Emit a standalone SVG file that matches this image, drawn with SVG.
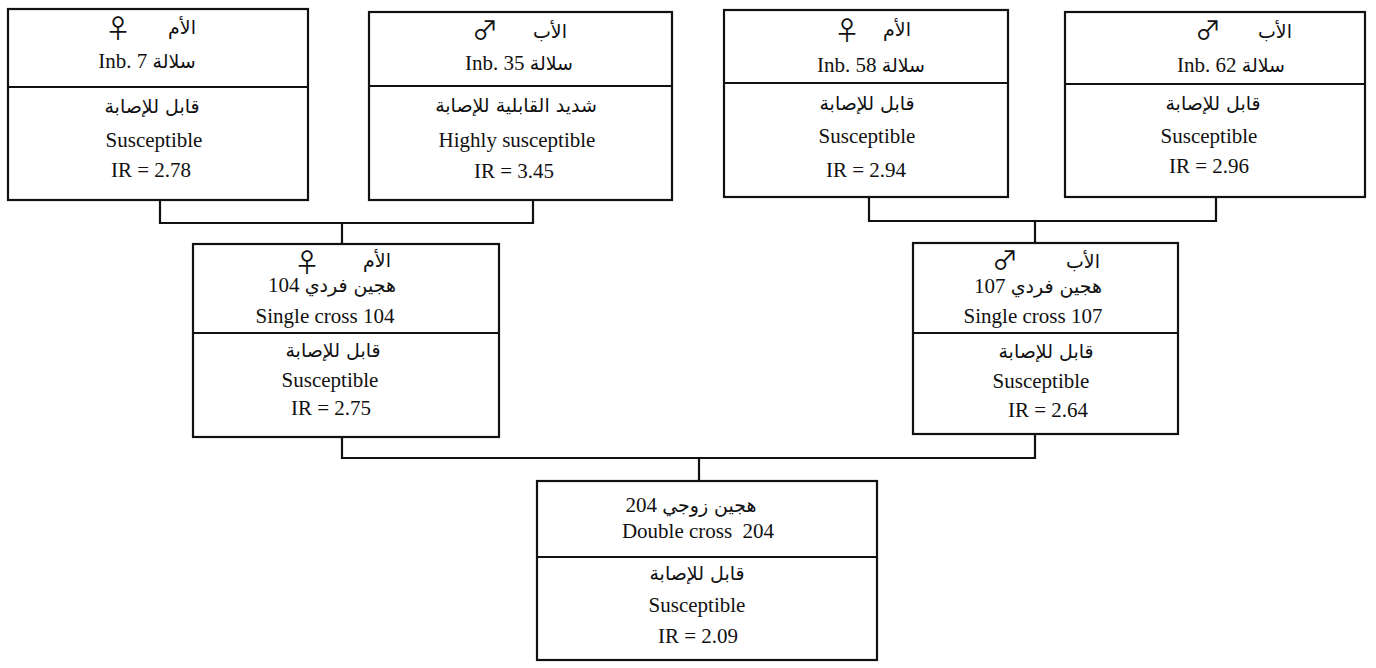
<svg xmlns="http://www.w3.org/2000/svg" width="1376" height="668" viewBox="0 0 1376 668">
<style>
.box{fill:#fff;stroke:#111;stroke-width:2.2}
.div{stroke:#111;stroke-width:2.2}
.con{fill:none;stroke:#111;stroke-width:2.2}
text{font-family:"Liberation Serif","DejaVu Sans",serif;font-size:21px;fill:#111;text-anchor:middle}
.ar{font-family:"DejaVu Sans","Noto Sans",sans-serif;font-size:19px}
.sym{font-family:"Noto Sans CJK JP","DejaVu Sans",sans-serif;font-size:26px}
</style>
<rect width="1376" height="668" fill="#fff"/>
<g id="connectors">
<path class="con" d="M160 200 V223 H533 V200"/>
<path class="con" d="M342 223 V244"/>
<path class="con" d="M869 197 V221 H1216 V197"/>
<path class="con" d="M1035 221 V243"/>
<path class="con" d="M342 437 V458 H1035 V434"/>
<path class="con" d="M699 458 V481"/>
</g>
<g id="n1">
<rect class="box" x="8" y="9" width="300" height="191"/>
<line class="div" x1="8" y1="87" x2="308" y2="87"/>
<text class="sym" x="118" y="38">♀</text>
<text class="ar" x="182" y="34">الأم</text>
<text x="147" y="68">Inb. 7 <tspan class="ar">سلالة</tspan></text>
<text class="ar" x="152" y="113">قابل للإصابة</text>
<text x="154" y="147">Susceptible</text>
<text x="151" y="177">IR = 2.78</text>
</g>
<g id="n2">
<rect class="box" x="369" y="12" width="303" height="188"/>
<line class="div" x1="369" y1="86" x2="672" y2="86"/>
<text class="sym" x="485" y="40">♂</text>
<text class="ar" x="550" y="38">الأب</text>
<text x="519" y="70">Inb. 35 <tspan class="ar">سلالة</tspan></text>
<text class="ar" x="516" y="112">شديد القابلية للإصابة</text>
<text x="517" y="147">Highly susceptible</text>
<text x="514" y="178">IR = 3.45</text>
</g>
<g id="n3">
<rect class="box" x="724" y="10" width="284" height="187"/>
<line class="div" x1="724" y1="83" x2="1008" y2="83"/>
<text class="sym" x="847" y="40">♀</text>
<text class="ar" x="897" y="36">الأم</text>
<text x="871" y="72">Inb. 58 <tspan class="ar">سلالة</tspan></text>
<text class="ar" x="867" y="110">قابل للإصابة</text>
<text x="867" y="143">Susceptible</text>
<text x="866" y="177">IR = 2.94</text>
</g>
<g id="n4">
<rect class="box" x="1065" y="12" width="300" height="185"/>
<line class="div" x1="1065" y1="84" x2="1365" y2="84"/>
<text class="sym" x="1208" y="40">♂</text>
<text class="ar" x="1275" y="38">الأب</text>
<text x="1231" y="72">Inb. 62 <tspan class="ar">سلالة</tspan></text>
<text class="ar" x="1213" y="110">قابل للإصابة</text>
<text x="1209" y="143">Susceptible</text>
<text x="1209" y="173">IR = 2.96</text>
</g>
<g id="n5">
<rect class="box" x="193" y="244" width="306" height="193"/>
<line class="div" x1="193" y1="333" x2="499" y2="333"/>
<text class="sym" x="307" y="272">♀</text>
<text class="ar" x="377" y="267">الأم</text>
<text x="332" y="292">104 <tspan class="ar">هجين فردي</tspan></text>
<text x="325" y="323">Single cross 104</text>
<text class="ar" x="333" y="357">قابل للإصابة</text>
<text x="330" y="387">Susceptible</text>
<text x="331" y="415">IR = 2.75</text>
</g>
<g id="n6">
<rect class="box" x="913" y="243" width="265" height="191"/>
<line class="div" x1="913" y1="333" x2="1178" y2="333"/>
<text class="sym" x="1005" y="270">♂</text>
<text class="ar" x="1083" y="268">الأب</text>
<text x="1038" y="293">107 <tspan class="ar">هجين فردي</tspan></text>
<text x="1033" y="323">Single cross 107</text>
<text class="ar" x="1046" y="358">قابل للإصابة</text>
<text x="1041" y="388">Susceptible</text>
<text x="1048" y="417">IR = 2.64</text>
</g>
<g id="n7">
<rect class="box" x="537" y="481" width="340" height="179"/>
<line class="div" x1="537" y1="557" x2="877" y2="557"/>
<text x="691" y="512">204 <tspan class="ar">هجين زوجي</tspan></text>
<text x="698" y="538" xml:space="preserve">Double cross  204</text>
<text class="ar" x="697" y="580">قابل للإصابة</text>
<text x="697" y="612">Susceptible</text>
<text x="698" y="643">IR = 2.09</text>
</g>
</svg>
